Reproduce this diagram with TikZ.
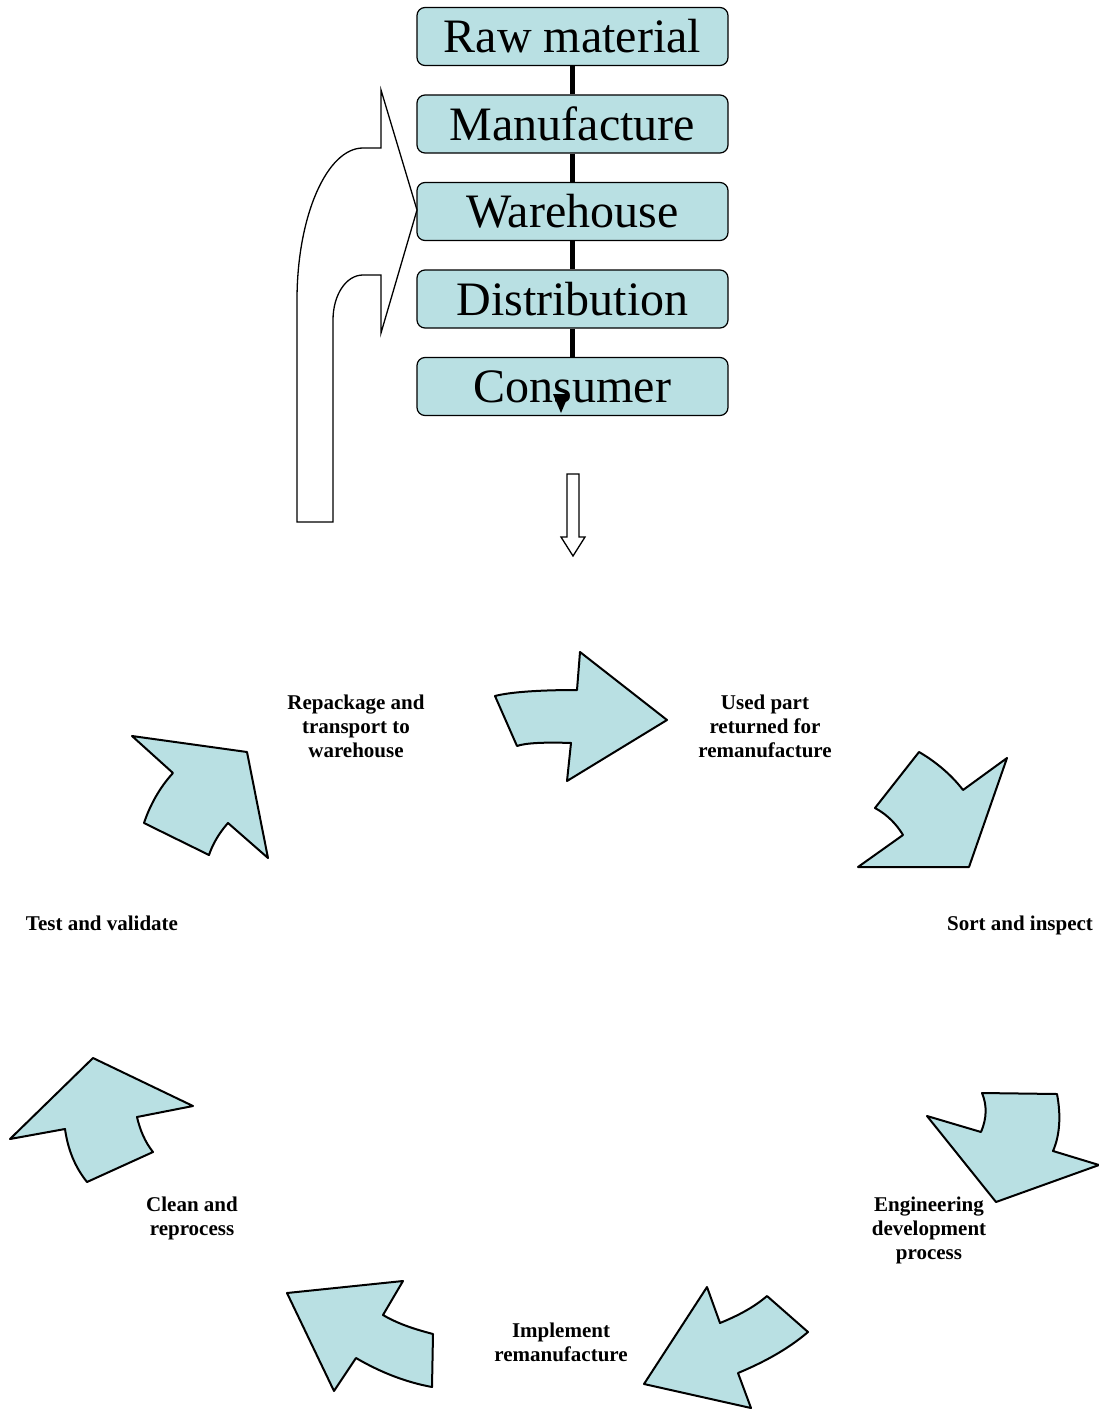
\documentclass[tikz,border=0pt]{standalone}
\usepackage{fontspec}
\setmainfont{Liberation Serif}
\usetikzlibrary{positioning}
\definecolor{mypowder}{RGB}{185,224,227}
\newcommand\chainnode[3][]{%
  \node[chainbox,#1] (#2) {#3};
}
\newcommand\cyclabel[3]{%
  \node[cyctext] (#1) at (#2) {#3};
}

\begin{document}
\begin{tikzpicture}[
x=1pt,y=-1pt,
node distance=28.3pt,
chainbox/.style={
  rectangle,
  rounded corners=8pt,
  draw,
  line width=1.2pt,
  fill=mypowder,
  minimum width=311pt,
  minimum height=58pt,
  inner sep=0pt,
  font=\fontsize{48}{56}\selectfont},
chainlink/.style={line width=5pt},
hollow/.style={draw, line width=1.3pt, fill=white, line join=miter},
cycarrow/.style={draw, line width=2pt, fill=mypowder, line join=round},
cyctext/.style={align=center, font=\fontsize{21}{24}\selectfont\bfseries}
]
\useasboundingbox (0,0) rectangle (1099,1410);

% supply chain
\chainnode[at={(572.5,36.5)}]{raw}{Raw material}
\chainnode[below=of raw]{manu}{Manufacture}
\chainnode[below=of manu]{ware}{Warehouse}
\chainnode[below=of ware]{distr}{Distribution}
\chainnode[below=of distr]{cons}{Consumer}
\draw [chainlink] (raw) -- (manu);
\draw [chainlink] (manu) -- (ware);
\draw [chainlink] (ware) -- (distr);
\draw [chainlink] (distr) -- (cons);
\fill (553,394) -- (569,394) -- (561,413) -- cycle;

% return arrow and down arrow
\path [hollow] (297,522) -- (297,300) .. controls (297,216) and (327,148) .. (363,148)
  -- (381,148) -- (381,90) -- (417,210) -- (381,333) -- (381,275) -- (363,275)
  .. controls (346,275) and (333,295) .. (333,320) -- (333,522) -- cycle;
\path [hollow] (567,474) -- (579,474) -- (579,537) -- (585,537) -- (573,556)
  -- (561,537) -- (567,537) -- cycle;

% remanufacture cycle
\path [cycarrow] (495,696) .. controls (510,692) and (540,690) .. (577,690) -- (580,652)
  -- (667,720) -- (567,781) -- (571,743) .. controls (545,742) and (525,743) .. (517,746) -- cycle;
\path [cycarrow] (919,752) .. controls (933,760) and (950,773) .. (963,790) -- (1007,758)
  -- (969,867) -- (858,867) -- (903,835) .. controls (897,825) and (888,815) .. (875,808) -- cycle;
\path [cycarrow] (982,1093) -- (1057,1094) .. controls (1061,1115) and (1060,1135) .. (1053,1151)
  -- (1099,1165) -- (996,1202) -- (927,1116) -- (981,1132) .. controls (987,1118) and (987,1105) .. (982,1093) -- cycle;
\path [cycarrow] (707,1287) -- (720,1323) .. controls (737,1316) and (753,1308) .. (767,1296)
  -- (808,1332) .. controls (787,1350) and (762,1363) .. (738,1373) -- (751,1408) -- (644,1384) -- cycle;
\path [cycarrow] (287,1293) -- (403,1281) -- (383,1315) .. controls (400,1325) and (418,1330) .. (433,1334)
  -- (432,1387) .. controls (405,1382) and (380,1372) .. (356,1358) -- (334,1391) -- cycle;
\path [cycarrow] (93,1058) -- (193,1106) -- (137,1117) .. controls (140,1130) and (145,1142) .. (153,1152)
  -- (87,1182) .. controls (75,1167) and (68,1150) .. (65,1129) -- (10,1139) -- cycle;
\path [cycarrow] (132,736) -- (247,752) -- (268,858) -- (228,823) .. controls (220,832) and (213,843) .. (209,855)
  -- (144,823) .. controls (150,805) and (160,787) .. (173,773) -- cycle;

\cyclabel{repack}{356,726}{Repackage and\\transport to\\warehouse}
\cyclabel{used}{765,726}{Used part\\returned for\\remanufacture}
\cyclabel{sort}{1020,925}{Sort and inspect}
\cyclabel{engin}{929,1230}{Engineering\\development\\process}
\cyclabel{implem}{561,1342}{Implement\\remanufacture}
\cyclabel{clean}{192,1218}{Clean and\\reprocess}
\cyclabel{test}{102,923}{Test and validate}
\end{tikzpicture}
\end{document}
